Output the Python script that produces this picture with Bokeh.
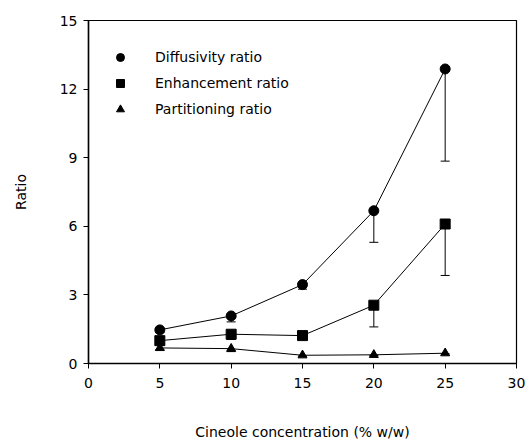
from bokeh.plotting import figure
from bokeh.models import Range1d, ColumnDataSource, Whisker, TeeHead, Legend, LegendItem, FixedTicker
from bokeh.embed import file_html
from bokeh.resources import INLINE

conc = [5, 10, 15, 20, 25]
diffusivity = [1.47, 2.08, 3.45, 6.68, 12.88]
diff_lower = [1.35, 1.82, 3.25, 5.30, 8.85]
enhancement = [1.00, 1.28, 1.22, 2.55, 6.10]
enh_lower = [0.80, 1.05, 1.12, 1.60, 3.85]
partitioning = [0.68, 0.65, 0.36, 0.38, 0.45]
part_lower = [0.60, 0.52, 0.33, 0.35, 0.42]
x_ticks = [0, 5, 10, 15, 20, 25, 30]
y_ticks = [0, 3, 6, 9, 12, 15]
labels = ["Diffusivity ratio", "Enhancement ratio", "Partitioning ratio"]

FONT = "DejaVu Sans"

p = figure(width=526, height=442, output_backend="svg", toolbar_location=None,
           x_range=Range1d(0, 30), y_range=Range1d(0, 15),
           min_border_left=88, min_border_right=10, min_border_top=20, min_border_bottom=79)
p.grid.visible = False
p.outline_line_color = "black"
p.outline_line_width = 1.2

for ax in (p.xaxis[0], p.yaxis[0]):
    ax.axis_line_color = "black"
    ax.axis_line_width = 1.5
    ax.major_tick_out = 5
    ax.major_tick_in = 0
    ax.minor_tick_line_color = None
    ax.major_label_text_font = FONT
    ax.major_label_text_font_size = "14px"
    ax.major_label_text_color = "black"
    ax.axis_label_text_font = FONT
    ax.axis_label_text_font_size = "14px"
    ax.axis_label_text_font_style = "normal"
    ax.axis_label_text_color = "black"

p.xaxis.ticker = FixedTicker(ticks=x_ticks)
p.yaxis.ticker = FixedTicker(ticks=y_ticks)
p.xaxis.major_label_standoff = 9
p.yaxis.major_label_standoff = 6
p.xaxis.axis_label = "Cineole concentration (% w/w)"
p.yaxis.axis_label = "Ratio"
p.xaxis.axis_label_standoff = 33
p.yaxis.axis_label_standoff = 28

series = [
    (diffusivity, diff_lower, "circle", 10),
    (enhancement, enh_lower, "square", 10),
    (partitioning, part_lower, "triangle", 9),
]
items = []
for (vals, lower, marker, size), lab in zip(series, labels):
    src = ColumnDataSource(dict(x=conc, y=vals, lower=lower))
    p.line("x", "y", source=src, line_color="black", line_width=1)
    p.add_layout(Whisker(base="x", lower="lower", upper="y", source=src,
                         line_color="black", line_width=1, upper_head=None,
                         lower_head=TeeHead(size=9, line_color="black", line_width=1)))
    r = p.scatter("x", "y", source=src, marker=marker, size=size,
                  fill_color="black", line_color="black")
    items.append(LegendItem(label=lab, renderers=[r]))

legend = Legend(items=items, location=(22, 244), margin=0, padding=0,
                glyph_width=20, glyph_height=20, label_height=20, spacing=6,
                label_standoff=25, border_line_color=None, background_fill_alpha=0,
                label_text_font=FONT, label_text_font_size="14px", label_text_color="black")
p.add_layout(legend)

open("out.html", "w").write(file_html(p, INLINE))
